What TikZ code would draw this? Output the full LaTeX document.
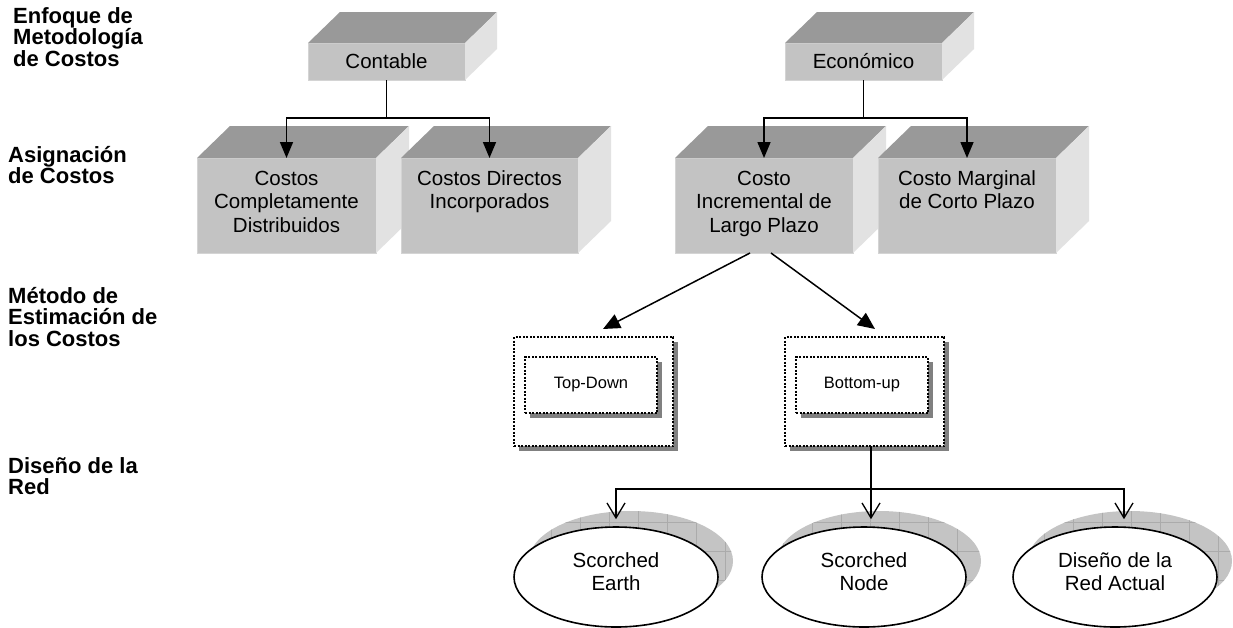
\documentclass[tikz,border=0pt]{standalone}
\usepackage{fontspec}
\setmainfont{Liberation Sans}
\usetikzlibrary{arrows.meta,shapes.geometric,shadows}
\definecolor{topgray}{HTML}{999999}
\definecolor{frontgray}{HTML}{C3C3C3}
\definecolor{sidegray}{HTML}{E2E2E2}
\definecolor{edgegray}{HTML}{D4D4D4}
\definecolor{dotshadow}{HTML}{808080}
\definecolor{ellshadow}{HTML}{C4C4C4}
\definecolor{gridgray}{HTML}{ABABAB}
\newcommand{\facetxt}[3]{\parbox[c][#2][t]{#1}{\centering\lineskiplimit=-20pt\rule{0pt}{27pt}#3\par}}
\newcommand{\elltxt}[1]{\parbox[c][60pt][t]{120pt}{\centering\lineskiplimit=-20pt\rule{0pt}{20pt}#1\par}}
\newcommand{\cubesides}[3]{%
  \fill[topgray] (#1.north west) -- (#1.north east) -- ++(#2,-#3) -- ([shift={(#2,-#3)}]#1.north west) -- cycle;
  \fill[sidegray] (#1.north east) -- (#1.south east) -- ++(#2,-#3) -- ([shift={(#2,-#3)}]#1.north east) -- cycle;}
\begin{document}
\begin{tikzpicture}[x=1pt,y=-1pt,
  face/.style={rectangle, fill=frontgray, draw=edgegray, line width=0.8pt, inner sep=0pt, outer sep=0pt, font=\fontsize{20.5}{23.5}\selectfont},
  conn/.style={line width=1.6pt, -{Triangle[length=16pt,width=13pt]}},
  darr/.style={line width=1.5pt, -{Triangle[length=17pt,width=15pt]}},
  barr/.style={line width=1.3pt, -{Straight Barb[length=15pt,width=18pt]}},
  dotbox/.style={rectangle, draw=black, fill=white, line width=2.2pt, dash pattern=on 2pt off 1.5pt, inner sep=0pt, outer sep=0pt, drop shadow={shadow xshift=5pt, shadow yshift=-5pt, opacity=1, fill=dotshadow}},
  ell/.style={ellipse, draw=black, fill=white, line width=1.6pt, minimum width=204pt, minimum height=100pt, inner sep=0pt, font=\fontsize{20.5}{23}\selectfont},
  lab/.style={anchor=base west, inner sep=0pt, font=\bfseries\fontsize{22}{21.5}\selectfont},
  gridl/.style={gridgray, line width=0.6pt}]
\fill[white] (0,0) rectangle (1233,627);
\useasboundingbox (0,0) rectangle (1233,627);

% left labels
\node[lab] (l1) at (13,23) {\parbox[t]{180pt}{\raggedright\lineskiplimit=-20pt Enfoque de\\Metodología\\de Costos}};
\node[lab] (l2) at (8,162) {\parbox[t]{180pt}{\raggedright\lineskiplimit=-20pt Asignación\\de Costos}};
\node[lab] (l3) at (8,303) {\parbox[t]{180pt}{\raggedright\lineskiplimit=-20pt Método de\\Estimación de\\los Costos}};
\node[lab] (l4) at (8,473) {\parbox[t]{180pt}{\raggedright\lineskiplimit=-20pt Diseño de la\\Red}};

% top level boxes
\node[face] (cont) at (386.5,61.5) {\parbox[c][37pt][c]{157pt}{\centering Contable}};
\cubesides{cont}{32}{31}
\node[face] (eco) at (863.5,61.5) {\parbox[c][37pt][c]{157pt}{\centering Económico}};
\cubesides{eco}{32}{31}

% second level boxes
\node[face] (ccd) at (286.5,205.5) {\facetxt{179pt}{95pt}{Costos\\Completamente\\Distribuidos}};
\cubesides{ccd}{33}{32}
\node[face] (cdi) at (489.5,205.5) {\facetxt{177pt}{95pt}{Costos Directos\\Incorporados}};
\cubesides{cdi}{33}{32}
\node[face] (cilp) at (764,205.5) {\facetxt{178pt}{95pt}{Costo\\Incremental de\\Largo Plazo}};
\cubesides{cilp}{33}{32}
\node[face] (cmcp) at (967,205.5) {\facetxt{178pt}{95pt}{Costo Marginal\\de Corto Plazo}};
\cubesides{cmcp}{33}{32}

% dotted boxes
\node[dotbox, minimum width=159pt, minimum height=109pt] (tdo) at (593.5,391.5) {};
\node[dotbox, minimum width=132pt, minimum height=56pt, font=\fontsize{16.5}{19}\selectfont] (tdi) at (591,385) {Top-Down};
\node[dotbox, minimum width=159pt, minimum height=109pt] (buo) at (864.5,391.5) {};
\node[dotbox, minimum width=132pt, minimum height=56pt, font=\fontsize{16.5}{19}\selectfont] (bui) at (862,385) {Bottom-up};

% ellipses with textured shadows
\fill[ellshadow] (631,561) ellipse [x radius=102pt, y radius=50pt];
\begin{scope}
  \clip (631,561) ellipse [x radius=102pt, y radius=50pt];
  \draw[gridl, step=29pt] (520,500) grid (740,620);
\end{scope}
\node[ell] (e1) at (616,577) {\elltxt{Scorched\\Earth}};

\fill[ellshadow] (879,561) ellipse [x radius=102pt, y radius=50pt];
\begin{scope}
  \clip (879,561) ellipse [x radius=102pt, y radius=50pt];
  \draw[gridl, step=29pt] (770,500) grid (990,620);
\end{scope}
\node[ell] (e2) at (864,577) {\elltxt{Scorched\\Node}};

\fill[ellshadow] (1130,561) ellipse [x radius=102pt, y radius=50pt];
\begin{scope}
  \clip (1130,561) ellipse [x radius=102pt, y radius=50pt];
  \draw[gridl, step=29pt] (1020,500) grid (1240,620);
\end{scope}
\node[ell] (e3) at (1115,577) {\elltxt{Diseño de la\\Red Actual}};

% connectors
\draw[conn] (cont.south) -- ++(0,38) -| (ccd.north);
\draw[conn] (cont.south) -- ++(0,38) -| (cdi.north);
\draw[conn] (eco.south) -- ++(0,38) -| (cilp.north);
\draw[conn] (eco.south) -- ++(0,38) -| (cmcp.north);

\draw[darr] ([xshift=-14pt]cilp.south) -- ([shift={(9.5pt,8pt)}]tdo.north);
\draw[darr] ([xshift=7pt]cilp.south) -- ([shift={(10.5pt,8pt)}]buo.north);

\coordinate (bj) at (871,489);
\draw[barr] ([xshift=6.5pt]buo.south) -- ([shift={(7pt,7pt)}]e2.north);
\draw[barr] (bj) -| ([yshift=7pt]e1.north);
\draw[barr] (bj) -| ([shift={(9pt,7pt)}]e3.north);
\end{tikzpicture}
\end{document}
